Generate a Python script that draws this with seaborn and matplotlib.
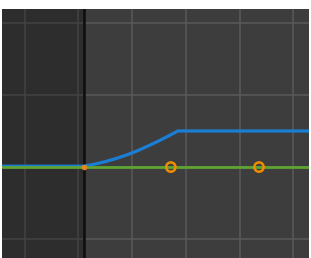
"""
Graph-editor style view: one eased F-curve and one flat channel with keyframes
"""
import matplotlib
matplotlib.use("Agg")
import matplotlib.pyplot as plt
import seaborn as sns
import pandas as pd

# Blue curve (frame, value)
blue_x = [-20, 1, 3, 5, 7, 9, 11, 13, 15, 17, 18.5, 60]
blue_y = [0.012, 0.012, 0.04, 0.075, 0.118, 0.168, 0.226, 0.293, 0.364, 0.44, 0.5, 0.5]

# Green flat channel
green_x = [-20, 60]
green_y = [0.0, 0.0]

# Keyframes on the green channel
key_x = [17.2, 33.6]
key_y = [0.0, 0.0]
start_frame = 1

grid_x = [-10, 0, 10, 20, 30, 40]
grid_y = [-1, 0, 1, 2]

sns.set_style("dark", {"axes.facecolor": "#3d3d3d"})

fig = plt.figure(figsize=(3.11, 2.58), dpi=100, facecolor="white")
ax = fig.add_axes([2 / 311, 0, 307 / 311, 249 / 258])
ax.set_facecolor("#3d3d3d")

for gx in grid_x:
    ax.axvline(gx, color="#575757", linewidth=1.2, zorder=1)
for gy in grid_y:
    ax.axhline(gy, color="#575757", linewidth=1.2, zorder=1)

# region before the scene start is darker
ax.axvspan(-30, start_frame, color="black", alpha=0.25, linewidth=0, zorder=2)
ax.axvline(start_frame, color="#0d0d0d", linewidth=1.8, zorder=3)

curves = pd.DataFrame({"frame": blue_x, "value": blue_y})
flat = pd.DataFrame({"frame": green_x, "value": green_y})
keys = pd.DataFrame({"frame": key_x, "value": key_y})

sns.lineplot(data=curves, x="frame", y="value", color="#1a7fd4", linewidth=2.3,
             sort=False, ax=ax, zorder=4)
sns.lineplot(data=flat, x="frame", y="value", color="#5ea432", linewidth=2.0,
             sort=False, ax=ax, zorder=5)
sns.scatterplot(data=keys, x="frame", y="value", s=45, facecolor="none",
                edgecolor="#f08c00", linewidth=1.8, ax=ax, zorder=6)
ax.plot([start_frame], [0], "o", color="#e08a1c", markersize=3, zorder=6)

ax.set_xlim(-14.2, 42.9)
ax.set_ylim(-1.26, 2.19)
ax.set_xlabel("")
ax.set_ylabel("")
ax.set_xticks([])
ax.set_yticks([])
for s in ax.spines.values():
    s.set_visible(False)

plt.savefig("out.png", dpi=100, facecolor="white")
